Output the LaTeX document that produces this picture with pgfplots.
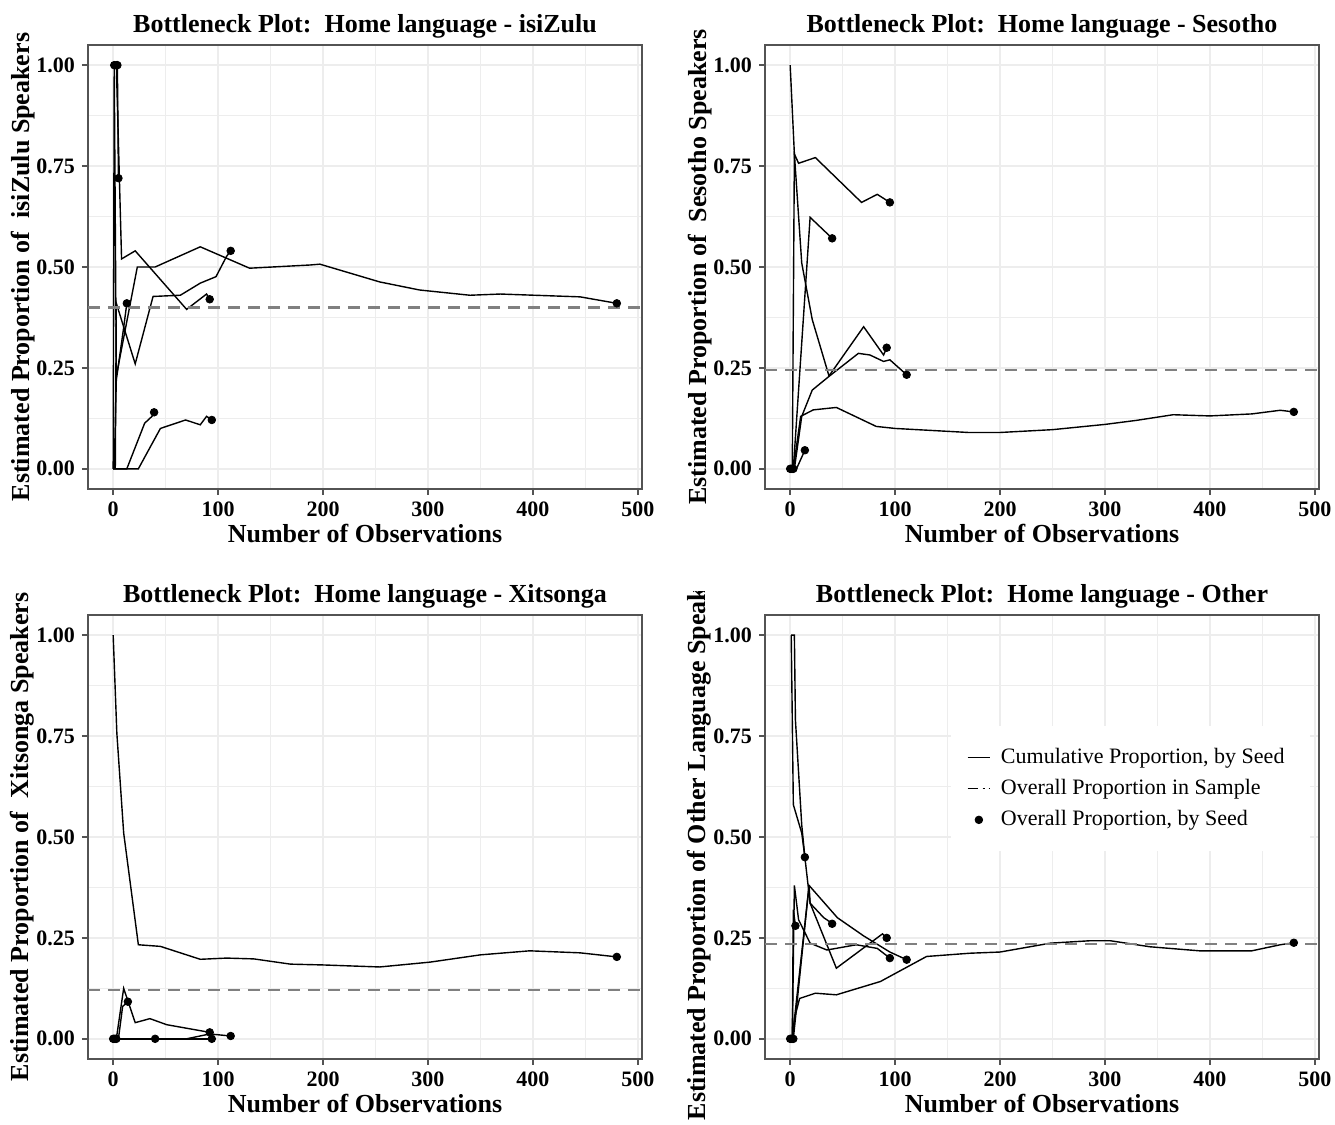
\documentclass[border=0pt]{standalone}
\usepackage{fontspec}
\setmainfont{Liberation Serif}
\usepackage{pgfplots}
\pgfplotsset{compat=1.18}

\pgfplotsset{
  bplot/.style={
    scale only axis, width=277pt, height=222pt,
    xmin=-24, xmax=504, ymin=-0.05, ymax=1.05,
    xtick={0,100,...,500}, ytick={0,0.25,0.5,0.75,1},
    minor x tick num=1, minor y tick num=1,
    grid=both,
    major grid style={gray!14, line width=0.8pt},
    minor grid style={gray!14, line width=0.8pt},
    tick pos=left, tick align=outside,
    major tick length=3pt, minor tick length=0pt,
    tick style={gray!65!black, line width=0.8pt},
    axis line style={gray!65!black, line width=0.9pt},
    /pgf/number format/assume math mode=true,
    ticklabel style={font=\bfseries\fontsize{11}{13}\selectfont},
    yticklabel style={/pgf/number format/.cd, fixed, fixed zerofill, precision=2},
    xlabel style={font=\bfseries\fontsize{13}{15}\selectfont, yshift=3pt},
    ylabel style={font=\bfseries\fontsize{13}{15}\selectfont, yshift=-6pt},
    title style={font=\bfseries\fontsize{13}{15}\selectfont, yshift=-6pt},
    xlabel={Number of Observations},
  },
  seed/.style={black, line width=0.7pt, no markers, forget plot},
  dots/.style={only marks, mark=*, mark size=1.9pt, black, forget plot},
  overall/.style={gray, line width=1.2pt, dash pattern=on 6pt off 4pt, no markers, forget plot},
}

\begin{document}
\begin{tikzpicture}
\useasboundingbox (0,0) rectangle (667.5pt,562.5pt);

% isiZulu
\begin{axis}[bplot, at={(44pt,318pt)}, anchor=south west,
  title={Bottleneck Plot:\ \ Home language - isiZulu},
  ylabel={Estimated Proportion of\ \ isiZulu Speakers}]
\addplot[seed] coordinates {(1,1) (3,1) (8,0.52) (21,0.54) (70,0.395) (89,0.433) (92,0.42)};
\addplot[seed] coordinates {(2,0) (3,0.41) (21,0.26) (38,0.427) (64,0.43) (83,0.46) (98,0.476) (108,0.526) (112,0.54)};
\addplot[seed] coordinates {(1,0) (3,0.22) (10,0.35) (13,0.41)};
\addplot[seed] coordinates {(0,0) (1,1) (3,0.23) (23,0.50) (40,0.50) (83,0.55) (130,0.497) (188,0.505) (197,0.507) (254,0.463) (292,0.443) (340,0.43) (369,0.433) (445,0.426) (480,0.41)};
\addplot[seed] coordinates {(0,0) (13,0) (30,0.113) (37,0.13) (39,0.14)};
\addplot[seed] coordinates {(0,0) (24,0) (45,0.10) (69,0.121) (83,0.109) (89,0.13) (94,0.121)};
\addplot[seed] coordinates {(2,1) (4,1) (5,0.72)};
\addplot[overall] coordinates {(-24,0.40) (504,0.40)};
\addplot[dots] coordinates {(1,1) (3,1) (4,1) (5,0.72) (13,0.41) (39,0.14) (92,0.42) (94,0.121) (112,0.54) (480,0.41)};
\end{axis}

% Sesotho
\begin{axis}[bplot, at={(382.5pt,318pt)}, anchor=south west,
  title={Bottleneck Plot:\ \ Home language - Sesotho},
  ylabel={Estimated Proportion of\ \ Sesotho Speakers}]
\addplot[seed] coordinates {(0,1) (4,0.78) (11,0.51) (21,0.37) (37,0.23) (70,0.352) (89,0.282) (92,0.30)};
\addplot[seed] coordinates {(2,0) (4,0.78) (8,0.757) (24,0.771) (68,0.66) (83,0.68) (95,0.66)};
\addplot[seed] coordinates {(3,0) (19,0.623) (40,0.571)};
\addplot[seed] coordinates {(4,0) (11,0.13) (21,0.195) (37,0.229) (65,0.286) (76,0.282) (89,0.266) (95,0.27) (111,0.233)};
\addplot[seed] coordinates {(3,0) (10,0.13) (22,0.146) (44,0.152) (82,0.105) (100,0.10) (170,0.09) (200,0.09) (250,0.097) (300,0.11) (330,0.12) (365,0.134) (400,0.131) (440,0.136) (467,0.145) (480,0.141)};
\addplot[seed] coordinates {(3,0) (6,0) (14,0.046)};
\addplot[overall] coordinates {(-24,0.245) (504,0.245)};
\addplot[dots] coordinates {(0,0) (1,0) (2,0) (3,0) (14,0.046) (40,0.571) (92,0.30) (95,0.66) (111,0.233) (480,0.141)};
\end{axis}

% Xitsonga
\begin{axis}[bplot, at={(44pt,33pt)}, anchor=south west,
  title={Bottleneck Plot:\ \ Home language - Xitsonga},
  ylabel={Estimated Proportion of\ \ Xitsonga Speakers}]
\addplot[seed] coordinates {(0,1) (3.5,0.757) (10,0.51) (24,0.233) (45,0.229) (83,0.197) (108,0.2) (134,0.198) (169,0.185) (200,0.183) (254,0.178) (302,0.19) (350,0.208) (397,0.218) (445,0.213) (480,0.203)};
\addplot[seed] coordinates {(3,0) (10,0.125) (21,0.04) (35,0.05) (51,0.035) (92,0.016)};
\addplot[seed] coordinates {(5,0) (9,0.08) (14,0.092)};
\addplot[seed] coordinates {(1,0) (40,0)};
\addplot[seed] coordinates {(1,0) (94,0)};
\addplot[seed] coordinates {(3,0) (70,0) (92,0.012) (112,0.007)};
\addplot[overall] coordinates {(-24,0.121) (504,0.121)};
\addplot[dots] coordinates {(0,0) (1,0) (2,0) (3,0) (14,0.092) (40,0) (92,0.016) (94,0) (112,0.007) (480,0.203)};
\end{axis}

% Other
\begin{scope}
\clip (0,0) rectangle (380pt,267pt) (380pt,0) rectangle (667.5pt,562.5pt);
\begin{axis}[bplot, at={(382.5pt,33pt)}, anchor=south west,
  title={Bottleneck Plot:\ \ Home language - Other},
  ylabel={Estimated Proportion of Other Language Speakers},
  legend style={at={(0.66,0.609)}, anchor=center, draw=none, fill=white,
    font=\fontsize{11}{13}\selectfont, row sep=2.5pt, inner xsep=8pt, inner ysep=9pt,
    nodes={inner xsep=5pt}},
  legend cell align=left,
  legend image code/.code={\draw[mark repeat=2,mark phase=2,#1] plot coordinates {(0cm,0cm) (0.2cm,0cm) (0.4cm,0cm)};}]
\addlegendimage{black, line width=0.7pt}
\addlegendentry{Cumulative Proportion, by Seed}
\addlegendimage{black, line width=0.7pt, dash pattern=on 5pt off 2.5pt on 1pt off 2pt}
\addlegendentry{Overall Proportion in Sample}
\addlegendimage{only marks, mark=*, mark size=1.9pt, black}
\addlegendentry{Overall Proportion, by Seed}
\addplot[seed] coordinates {(1,1) (4,1) (5,0.79) (11,0.53) (14,0.45) (19,0.336) (32,0.30) (36,0.293) (40,0.285)};
\addplot[seed] coordinates {(1,1) (2,0.79) (3,0.58) (11,0.51) (14,0.45)};
\addplot[seed] coordinates {(2,0) (4,0.38) (8,0.295) (19,0.237) (35,0.22) (63,0.233) (83,0.224) (95,0.2)};
\addplot[seed] coordinates {(3,0) (18,0.38) (45,0.30) (70,0.255) (95,0.215) (111,0.196)};
\addplot[seed] coordinates {(2,0) (18,0.38) (19,0.336) (44,0.175) (88,0.26) (92,0.25)};
\addplot[seed] coordinates {(2,0) (4,0.05) (9,0.10) (24,0.113) (44,0.109) (86,0.142) (130,0.204) (171,0.212) (200,0.215) (248,0.237) (286,0.243) (305,0.243) (343,0.228) (390,0.218) (440,0.218) (467,0.233) (480,0.238)};
\addplot[seed] coordinates {(2,0) (3,0.32) (5,0.28)};
\addplot[overall] coordinates {(-24,0.235) (504,0.235)};
\addplot[dots] coordinates {(0,0) (1,0) (2,0) (3,0) (5,0.28) (14,0.45) (40,0.285) (92,0.25) (95,0.2) (111,0.196) (480,0.238)};
\end{axis}
\end{scope}
\end{tikzpicture}
\end{document}
